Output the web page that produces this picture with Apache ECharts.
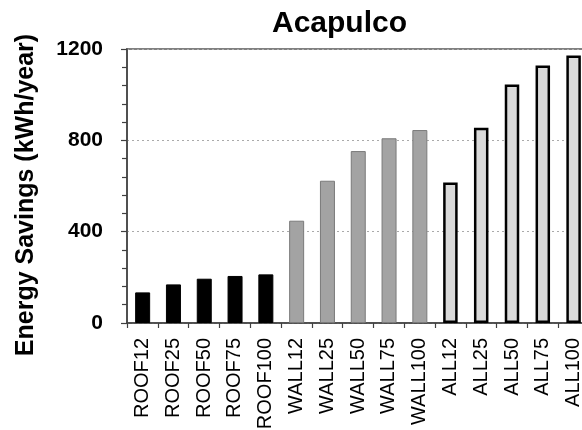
<!DOCTYPE html>
<html>
<head>
<meta charset="utf-8">
<script src="https://cdn.jsdelivr.net/npm/echarts@6/dist/echarts.min.js"></script>
<style>
  html, body { margin: 0; padding: 0; background: #fff; }
  #chart { width: 582px; height: 430px; }
</style>
</head>
<body>
<div id="chart"></div>
<script>
// Scenario labels along the x axis
const categories = [
  'ROOF12', 'ROOF25', 'ROOF50', 'ROOF75', 'ROOF100',
  'WALL12', 'WALL25', 'WALL50', 'WALL75', 'WALL100',
  'ALL12', 'ALL25', 'ALL50', 'ALL75', 'ALL100'
];

// Annual energy savings (kWh/year) per retrofit group
const roofCats = ['ROOF12', 'ROOF25', 'ROOF50', 'ROOF75', 'ROOF100'];
const roofValues = [134, 169, 194, 206, 213];

const wallCats = ['WALL12', 'WALL25', 'WALL50', 'WALL75', 'WALL100'];
const wallValues = [448, 623, 753, 809, 845];

const allCats = ['ALL12', 'ALL25', 'ALL50', 'ALL75', 'ALL100'];
const allValues = [615, 855, 1045, 1128, 1172];

// Y axis range and tick spacing
const yMin = 0;
const yMax = 1200;
const yStep = 400;

// Place a group's values on the full category list, leaving gaps elsewhere
function spread(cats, values) {
  return categories.map(c => {
    const i = cats.indexOf(c);
    return i >= 0 ? values[i] : null;
  });
}

const FONT = 'Liberation Sans, Arial, Helvetica, sans-serif';

const chart = echarts.init(document.getElementById('chart'), null, { renderer: 'canvas' });

chart.setOption({
  backgroundColor: '#ffffff',
  animation: false,
  title: {
    text: 'Acapulco',
    left: 267,
    top: 4,
    textStyle: { fontFamily: FONT, fontSize: 30, fontWeight: 'bold', color: '#000' }
  },
  grid: {
    left: 127,
    top: 49,
    width: 462,
    height: 274,
    outerBoundsMode: 'none',
    containLabel: false,
    show: true,
    backgroundColor: 'transparent',
    borderColor: '#808080',
    borderWidth: 2
  },
  xAxis: {
    type: 'category',
    data: categories,
    boundaryGap: true,
    axisLine: { show: true, lineStyle: { color: '#404040', width: 1.5 } },
    axisTick: { show: true, length: 5, lineStyle: { color: '#404040', width: 1.2 } },
    axisLabel: {
      rotate: 90,
      interval: 0,
      margin: 15,
      fontFamily: FONT,
      fontSize: 20,
      color: '#000'
    },
    splitLine: { show: false }
  },
  yAxis: {
    type: 'value',
    min: yMin,
    max: yMax,
    interval: yStep,
    name: 'Energy Savings (kWh/year)',
    nameLocation: 'middle',
    nameRotate: 90,
    nameGap: 88,
    nameTextStyle: {
      fontFamily: FONT,
      fontSize: 25,
      fontWeight: 'bold',
      color: '#000',
      padding: [0, 18, 0, 0]
    },
    axisLine: { show: true, lineStyle: { color: '#404040', width: 1.5 } },
    axisTick: { show: true, length: 6, lineStyle: { color: '#404040', width: 1.2 } },
    minorTick: { show: true, splitNumber: 5, length: 5, lineStyle: { color: '#404040', width: 1.2 } },
    axisLabel: {
      margin: 24,
      fontFamily: FONT,
      fontSize: 21,
      fontWeight: 'bold',
      color: '#000',
      formatter: v => String(v)
    },
    splitLine: {
      show: true,
      lineStyle: { color: '#aaaaaa', width: 1, type: [2, 3] }
    }
  },
  series: [
    {
      name: 'Roof',
      type: 'bar',
      data: spread(roofCats, roofValues),
      barWidth: 15,
      barGap: '-100%',
      itemStyle: { color: '#000000', borderColor: '#000000', borderWidth: 1 }
    },
    {
      name: 'Wall',
      type: 'bar',
      data: spread(wallCats, wallValues),
      barWidth: 15,
      barGap: '-100%',
      itemStyle: { color: '#a3a3a3', borderColor: '#7a7a7a', borderWidth: 1 }
    },
    {
      name: 'All',
      type: 'bar',
      data: spread(allCats, allValues),
      barWidth: 14.5,
      barGap: '-100%',
      itemStyle: { color: '#d9d9d9', borderColor: '#000000', borderWidth: 2.5 }
    }
  ]
});
</script>
</body>
</html>
